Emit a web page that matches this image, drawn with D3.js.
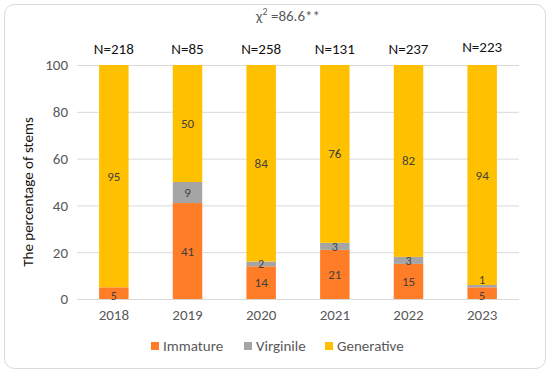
<!DOCTYPE html>
<html><head><meta charset="utf-8">
<script src="https://cdn.jsdelivr.net/npm/d3@7"></script>
<style>body{margin:0;background:#fff}svg{display:block;font-family:Carlito,Lato,sans-serif}</style>
</head><body><svg id="c" width="550" height="373"></svg>
<script>
const years = ["2018","2019","2020","2021","2022","2023"];
const nLabels = ["N=218","N=85","N=258","N=131","N=237","N=223"];
const immature = [5,41,14,21,15,5];
const virginile = [0,9,2,3,3,1];
const generative = [95,50,84,76,82,94];
const seriesNames = ["Immature","Virginile","Generative"];
const colors = ["#FF7D27","#A5A5A5","#FFC000"];
const yTicks = [0,20,40,60,80,100];

const svg = d3.select("#c");
svg.append("rect").attr("x",4.5).attr("y",4.5).attr("width",541).attr("height",364)
  .attr("rx",10).attr("fill","#fff").attr("stroke","#D9D9D9");

const x = d3.scaleBand().domain(years).range([77,519]).paddingInner(0.6).paddingOuter(0.3);
const y = d3.scaleLinear().domain([0,100]).range([299,65]);

svg.append("g").selectAll("line").data(yTicks).join("line")
  .attr("x1",77).attr("x2",519).attr("y1",d=>y(d)+0.5).attr("y2",d=>y(d)+0.5)
  .attr("stroke","#D9D9D9").attr("stroke-width",1);

const yAxis = d3.axisLeft(y).tickValues(yTicks).tickSize(0).tickPadding(9);
const ya = svg.append("g").attr("transform","translate(77,0)").call(yAxis);
ya.select(".domain").remove();
ya.selectAll("text").attr("font-size",15).attr("fill","#595959").attr("font-family","Carlito,Lato,sans-serif");

const xAxis = d3.axisBottom(x).tickSize(0).tickPadding(10);
const xa = svg.append("g").attr("transform","translate(0,299)").call(xAxis);
xa.select(".domain").remove();
xa.selectAll("text").attr("font-size",15).attr("fill","#595959").attr("font-family","Carlito,Lato,sans-serif");

const rows = years.map((yr,i)=>({year:yr, Immature:immature[i], Virginile:virginile[i], Generative:generative[i]}));
const stack = d3.stack().keys(seriesNames)(rows);
stack.forEach((s,si)=>{
  svg.append("g").attr("fill",colors[si]).selectAll("rect").data(s).join("rect")
    .attr("x",d=>x(d.data.year)).attr("width",x.bandwidth())
    .attr("y",d=>y(d[1])).attr("height",d=>y(d[0])-y(d[1]));
});
stack.forEach((s,si)=>{
  svg.append("g").selectAll("text").data(s.filter(d=>d[1]-d[0]>0)).join("text")
    .attr("x",d=>x(d.data.year)+x.bandwidth()/2)
    .attr("y",d=>{
      const mid=(y(d[0])+y(d[1]))/2;
      const h=y(d[0])-y(d[1]);
      if(h<4){ return mid-6; }
      return si===0 && d[1]<6 ? mid+3 : mid;
    })
    .attr("dy","0.35em").attr("text-anchor","middle")
    .attr("font-size",d=>(y(d[0])-y(d[1]))<14?12:13).attr("fill","#404040")
    .text(d=>d[1]-d[0]);
});

svg.append("g").selectAll("text").data(years).join("text")
  .attr("x",d=>x(d)+x.bandwidth()/2).attr("y",(d,i)=>i===5?52:54)
  .attr("text-anchor","middle").attr("font-size",15).attr("fill","#111")
  .text((d,i)=>nLabels[i]);

const t = svg.append("text").attr("x",288).attr("y",21).attr("text-anchor","middle")
  .attr("font-size",15).attr("fill","#595959");
t.append("tspan").text("χ");
t.append("tspan").attr("font-size",10).attr("dy",-6).text("2");
t.append("tspan").attr("dy",6).text(" =86.6**");

svg.append("text").attr("transform","translate(33,192) rotate(-90)")
  .attr("text-anchor","middle").attr("font-size",15).attr("fill","#111")
  .text("The percentage of stems");

const legX = [151,244,325];
const lg = svg.append("g");
seriesNames.forEach((n,i)=>{
  lg.append("rect").attr("x",legX[i]).attr("y",342).attr("width",8).attr("height",8).attr("fill",colors[i]);
  lg.append("text").attr("x",legX[i]+12).attr("y",351).attr("font-size",15).attr("fill","#595959").text(n);
});
</script></body></html>
